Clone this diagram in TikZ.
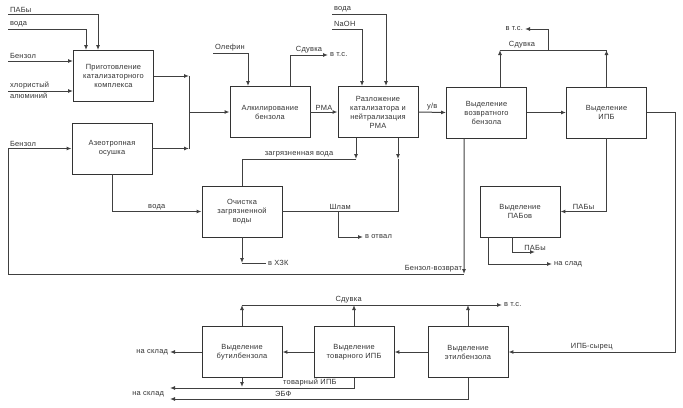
\documentclass[tikz,border=0pt]{standalone}
\usepackage{fontspec}
\setmainfont{Liberation Sans}[LetterSpace=3]
\usetikzlibrary{arrows.meta}

\begin{document}
\begin{tikzpicture}[x=1bp, y=-1bp, color=black!75, line width=1bp,
    every node/.style={font=\fontsize{7.5}{9}\selectfont, text=black!80, inner sep=1.5bp},
    blok/.style={draw=black!80, line width=0.9bp, minimum width=80bp, minimum height=51bp, align=center},
    >={Latex[length=5bp,width=4bp]}]
        \useasboundingbox (0,0) rectangle (683,407);

        % Blocks
        \node[blok] (kat) at (113.5,76) {Приготовление\\катализаторного\\комплекса};
        \node[blok] (azeo) at (112,148.5) {Азеотропная\\осушка};
        \node[blok] (alk) at (270,112) {Алкилирование\\бензола};
        \node[blok] (razl) at (378,112) {Разложение\\катализатора и\\нейтрализация\\РМА};
        \node[blok] (vozb) at (486.5,112.5) {Выделение\\возвратного\\бензола};
        \node[blok] (ipb) at (606.5,112.5) {Выделение\\ИПБ};
        \node[blok] (ochist) at (242,211.5) {Очистка\\загрязненной\\воды};
        \node[blok] (pab) at (520,211.5) {Выделение\\ПАБов};
        \node[blok] (butil) at (242,352) {Выделение\\бутилбензола};
        \node[blok] (tov) at (354,352) {Выделение\\товарного ИПБ};
        \node[blok] (etil) at (468,352) {Выделение\\этилбензола};

        % Feeds of the catalyst complex
        \draw[->] (8,14) node[above right] {ПАБы} -| (98,0 |- kat.north);
        \draw[->] (8,29) node[above right] {вода} -| (86,0 |- kat.north);
        \draw[->] (8,61) node[above right] {Бензол} -- (kat.west |- 0,61);
        \draw[->] (8,91) node[above right] {хлористый} node[below right] {алюминий} -- (kat.west |- 0,91);

        % Junction before alkylation
        \coordinate (jt) at (189,76);
        \coordinate (jb) at (189,148.5);
        \draw[->] (kat.east) -- (kat.east -| jt);
        \draw[->] (azeo.east) -- (azeo.east -| jt);
        \draw (jt) -- (jb);
        \draw[->] (alk.west -| jt) -- (alk.west);

        % Alkylation
        \draw[->] (213,53) node[above right] {Олефин} -| ([xshift=-22bp]alk.north);
        \draw[->] ([xshift=20bp]alk.north) |- node[pos=0.75, above] {Сдувка} (328,55) node[right] {в т.с.};
        \draw[->] (alk.east) -- node[above] {РМА} (razl.west);

        % Decomposition of the catalyst
        \draw[->] (332,14) node[above right] {вода} -| ([xshift=8bp]razl.north);
        \draw[->] (332,29) node[above right] {NaOH} -| ([xshift=-16bp]razl.north);
        \draw[->] (razl.east) -- node[above] {у/в} (vozb.west);
        \draw[->] (vozb.east) -- (ipb.west);

        % Off-gas of the separation
        \coordinate (sd) at (548,50);
        \draw[->] ([xshift=13.5bp]vozb.north) -- ([xshift=13.5bp]vozb.north |- sd);
        \draw[->] (ipb.north) -- (ipb.north |- sd);
        \draw ([xshift=13.5bp]vozb.north |- sd) -- (ipb.north |- sd);
        \node[above] at (522,50) {Сдувка};
        \draw[->] (sd) |- (525,29) node[left] {в т.с.};

        % Polluted water
        \coordinate (zv) at (356,159);
        \draw[->] (razl.south -| zv) -- (zv);
        \draw (zv) -| node[pos=0.25, above] {загрязненная вода} (ochist.north);
        \draw[->] (azeo.south) |- node[pos=0.75, above] {вода} (ochist.west);

        % Sludge
        \coordinate (shl) at (398,159);
        \draw (ochist.east) -| node[pos=0.25, above] {Шлам} (shl);
        \draw[->] (razl.south -| shl) -- (shl);
        \draw[->] (ochist.east -| 338,0) |- (363,237) node[right] {в отвал};
        \coordinate (hzk) at (242,263);
        \draw[->] (ochist.south) -- (hzk);
        \draw (hzk) -- (266,263) node[right] {в ХЗК};

        % Benzene recycle
        \coordinate (bv) at (464,274);
        \draw[->] ([xshift=-22.5bp]vozb.south) -- (bv);
        \draw[->] (bv) node[above left] {Бензол-возврат} -| (8,0 |- azeo.west) node[above right] {Бензол} -- (azeo.west);

        % PAB
        \draw[->] (ipb.south) |- node[pos=0.75, above] {ПАБы} (pab.east);
        \draw[->] ([xshift=-8bp]pab.south) |- (535,252) node[above] {ПАБы};
        \draw[->] ([xshift=-32bp]pab.south) |- (552,264) node[right] {на слад};

        % Raw IPB to the bottom row
        \draw[->] (ipb.east) -| (675,0 |- etil.east) -- node[above] {ИПБ-сырец} (etil.east);
        \draw[->] (etil.west) -- (tov.east);
        \draw[->] (tov.west) -- (butil.east);
        \draw[->] (butil.west) -- (170,352) node[left] {на склад};

        % Off-gas of the bottom row
        \coordinate (sdn) at (502,305);
        \draw[->] (butil.north) -- (butil.north |- sdn);
        \draw[->] (tov.north) -- (tov.north |- sdn);
        \draw[->] (etil.north) -- (etil.north |- sdn);
        \draw[->] (butil.north |- sdn) -- node[pos=0.41, above] {Сдувка} (sdn) node[right] {в т.с.};

        % Products
        \draw[->] (butil.south) -- (butil.south |- 0,387);
        \draw[->] (tov.south) |- node[pos=0.62, above] {товарный ИПБ} (170,388);
        \draw[->] (etil.south) |- node[pos=0.81, above] {ЭБФ} (170,399);
        \node[left] at (166,394) {на склад};
    \end{tikzpicture}
\end{document}
